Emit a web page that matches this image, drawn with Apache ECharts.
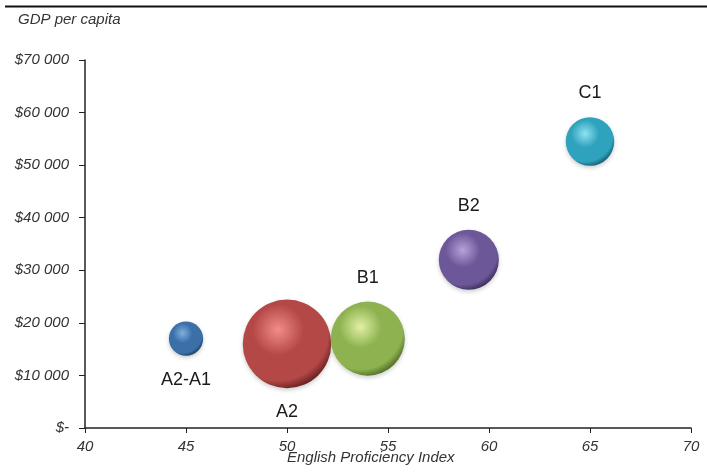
<!DOCTYPE html>
<html>
<head>
<meta charset="utf-8">
<script src="https://cdn.jsdelivr.net/npm/echarts@6/dist/echarts.min.js"></script>
<style>
  html, body { margin: 0; padding: 0; background: #fff; }
  #chart { width: 707px; height: 474px; }
</style>
</head>
<body>
<div id="chart"></div>
<script>
// CEFR level groups: proficiency index vs GDP per capita, bubble = relative weight
const levels = ['A2-A1', 'A2', 'B1', 'B2', 'C1'];
const proficiency = [45, 50, 54, 59, 65];
const gdpPerCapita = [17000, 16000, 17000, 32000, 54500];
const weight = [1.5, 10, 7, 4.6, 3];
const labelSide = ['bottom', 'bottom', 'top', 'top', 'top'];

const xTicks = [40, 45, 50, 55, 60, 65, 70];
const yTicks = [0, 10000, 20000, 30000, 40000, 50000, 60000, 70000];

// highlight / base / shade for each sphere
const palette = [
  ['#7fb0e0', '#3b6fa8', '#173252'],
  ['#f28d8a', '#b44846', '#4f1616'],
  ['#e2f0a6', '#8db24f', '#3f5a1c'],
  ['#b7a2da', '#6c5898', '#2c2148'],
  ['#8fe2f2', '#2fa2bd', '#104a5a']
];

function sphere(c) {
  return new echarts.graphic.RadialGradient(0.4, 0.34, 0.72, [
    { offset: 0, color: c[0] },
    { offset: 0.4, color: c[1] },
    { offset: 0.8, color: c[1] },
    { offset: 1, color: c[2] }
  ]);
}

const data = levels.map((name, i) => ({
  name: name,
  value: [proficiency[i], gdpPerCapita[i], weight[i]],
  itemStyle: {
    color: sphere(palette[i]),
    opacity: 1,
    shadowColor: 'rgba(0,0,0,0.2)',
    shadowBlur: 4,
    shadowOffsetY: 2
  },
  label: { position: labelSide[i] }
}));

function money(v) {
  if (v === 0) return '$-';
  const s = String(v);
  return '$' + s.slice(0, s.length - 3) + ' ' + s.slice(-3);
}

const font = '"Liberation Sans", Arial, sans-serif';

const chart = echarts.init(document.getElementById('chart'), null, { renderer: 'canvas' });
chart.setOption({
  animation: false,
  backgroundColor: '#fff',
  graphic: [
    {
      type: 'line',
      shape: { x1: 5, y1: 6.5, x2: 707, y2: 6.5 },
      style: { stroke: '#111', lineWidth: 2 }
    },
    {
      type: 'text',
      left: 18, top: 12,
      style: {
        text: 'GDP per capita',
        font: 'italic 15px ' + font,
        fill: '#333'
      }
    },
    {
      type: 'text',
      left: 287, top: 450,
      style: {
        text: 'English Proficiency Index',
        font: 'italic 15px ' + font,
        fill: '#333'
      }
    }
  ],
  grid: { left: 85, right: 16, top: 60, bottom: 46, containLabel: false },
  xAxis: {
    type: 'value',
    min: xTicks[0],
    max: xTicks[xTicks.length - 1],
    interval: 5,
    axisLine: { show: true, onZero: false, lineStyle: { color: '#222', width: 1.5 } },
    axisTick: { show: true, length: 5, lineStyle: { color: '#222' } },
    splitLine: { show: false },
    axisLabel: {
      color: '#333', fontStyle: 'italic', fontSize: 15,
      fontFamily: font, margin: 11
    }
  },
  yAxis: {
    type: 'value',
    min: yTicks[0],
    max: yTicks[yTicks.length - 1],
    interval: 10000,
    axisLine: { show: true, onZero: false, lineStyle: { color: '#222', width: 1.5 } },
    axisTick: { show: true, length: 6, lineStyle: { color: '#222' } },
    splitLine: { show: false },
    axisLabel: {
      color: '#333', fontStyle: 'italic', fontSize: 15,
      fontFamily: font, margin: 16,
      formatter: money
    }
  },
  series: [{
    type: 'scatter',
    data: data,
    symbolSize: v => 28 * Math.sqrt(v[2]),
    label: {
      show: true,
      formatter: p => p.name,
      color: '#1a1a1a',
      fontSize: 18,
      fontFamily: font,
      distance: 15
    }
  }]
});
</script>
</body>
</html>
